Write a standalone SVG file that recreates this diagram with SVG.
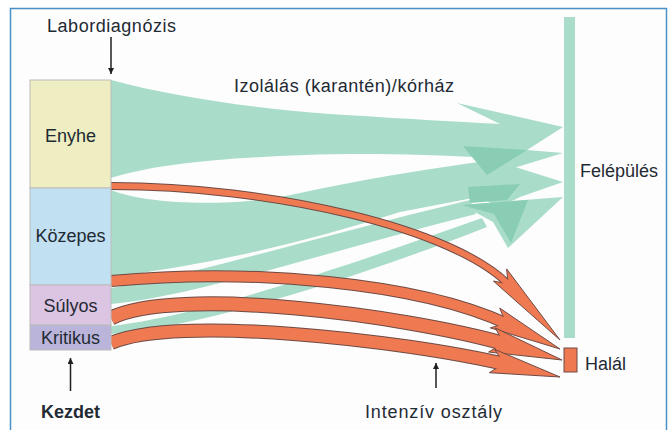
<svg xmlns="http://www.w3.org/2000/svg" width="670" height="430" viewBox="0 0 670 430">
<defs>
<style>
.g{fill:#a9dcc9}
.gd{fill:#88cdb4}
.ro{fill:none;stroke:#6e4a44}
.ri{fill:none;stroke:#ef7a52}
.rh{fill:#ef7a52;stroke:#6e4a44;stroke-width:1;stroke-linejoin:miter}
.t{font-family:"Liberation Sans",Arial,sans-serif;font-size:18px;fill:#1f2a33}
.box{stroke:#bcbcbc;stroke-width:1}
.ar{stroke:#1f1f1f;stroke-width:1.5;fill:none;marker-end:url(#ah)}
</style>
<marker id="ah" viewBox="0 0 10 10" refX="10" refY="5" markerUnits="userSpaceOnUse" markerWidth="10" markerHeight="6" orient="auto">
<path d="M0,0 L10,5 L0,10 z" fill="#1f1f1f"/>
</marker>
</defs>
<rect x="0" y="0" width="670" height="430" fill="#ffffff"/>
<rect x="10.5" y="8.5" width="656" height="440" fill="#fdfdfe" stroke="#4a90c4" stroke-width="1.5"/>

<g id="connectors">
<g id="green-flows">
<path class="g" d="M111,80 C170,96 250,108 330,114 C410,119 460,122 500,124 L457,103 L563,127 L527,150 L563,153 L487,176 L492,158 C420,154 360,153 305,155 C225,158 160,163 111,178 Z"/>
<path class="g" d="M111,190 C150,206 240,207 300,193 C370,178 440,167 495,160 L512,166 L563,182 L520,197 L500,207 L478,197 L400,212 Q250,260 111,277 Z"/>
<path class="g" d="M111,288 C190,276 320,236 470,200 L476,214 C326,252 195,296 111,304 Z"/>
<path class="g" d="M111,326 C200,316 350,265 482,218 L487,227 C356,278 205,326 111,334 Z"/>
<polygon class="g" points="462,205 563,197 508,248 493,222"/>
<polygon class="gd" points="463,146 527,150 487,175"/>
<polygon class="gd" points="468,187 520,184 507,200 470,203"/>
<polygon class="gd" points="462,205 528,200 511,243 494,214"/>
</g>
<g id="red-flows">
<g id="flow-enyhe-halal">
<path class="ro" stroke-width="8" d="M111,186 C270,186 456.6,228 510.8,286.8"/>
<polygon class="rh" points="506.6,268.9 560,340 493.4,281.1 508.1,283.8"/>
<path class="ri" stroke-width="6" d="M111,186 C270,186 456.6,228 510.8,286.8"/>
</g>
<g id="flow-kozepes-halal">
<path class="ro" stroke-width="12" d="M111,281 C250,268 419,282 509.4,324.9"/>
<polygon class="rh" points="499.7,308.1 560,349 490.3,327.9 505.8,323.2"/>
<path class="ri" stroke-width="10" d="M111,281 C250,268 419,282 509.4,324.9"/>
</g>
<g id="flow-sulyos-halal">
<path class="ro" stroke-width="15" d="M111,318 C175,286 401.6,314.2 507.4,344.4"/>
<polygon class="rh" points="495.4,328 562,360 488.6,352 503.5,343.3"/>
<path class="ri" stroke-width="13" d="M111,318 C175,286 401.6,314.2 507.4,344.4"/>
</g>
<g id="flow-kritikus-halal">
<path class="ro" stroke-width="14" d="M111,343 C175,315 400.6,339.5 507.6,364.7"/>
<polygon class="rh" points="494.7,349.3 560,377 489.3,372.7 503.7,363.7"/>
<path class="ri" stroke-width="12" d="M111,343 C175,315 400.6,339.5 507.6,364.7"/>
</g>
</g>
<g id="pointer-arrows">
<line class="ar" x1="111" y1="37" x2="111" y2="74"/>
<line class="ar" x1="70.5" y1="391" x2="70.5" y2="358"/>
<line class="ar" x1="436" y1="388" x2="436" y2="363"/>
</g>
</g>

<g id="node-enyhe">
<rect class="box" x="30" y="80" width="81" height="108" fill="#eeeec2"/>
<text class="t" x="70.5" y="142" text-anchor="middle">Enyhe</text>
</g>
<g id="node-kozepes">
<rect class="box" x="30" y="188" width="81" height="97" fill="#c1e0f2"/>
<text class="t" x="70.5" y="242" text-anchor="middle">Közepes</text>
</g>
<g id="node-sulyos">
<rect class="box" x="30" y="285" width="81" height="40" fill="#dcc4e3"/>
<text class="t" x="70.5" y="312" text-anchor="middle">Súlyos</text>
</g>
<g id="node-kritikus">
<rect class="box" x="30" y="325" width="81" height="25" fill="#bab4da"/>
<text class="t" x="70.5" y="344" text-anchor="middle">Kritikus</text>
</g>
<g id="node-felepules">
<rect x="564" y="17" width="11" height="321" fill="#a9dcc9"/>
<text class="t" x="580" y="177">Felépülés</text>
</g>
<g id="node-halal">
<rect x="564" y="348" width="13" height="24" fill="#ef7a52" stroke="#6e4a44" stroke-width="1"/>
<text class="t" x="585" y="370">Halál</text>
</g>
<g id="labels">
<text class="t" x="47" y="32" font-size="17" textLength="129">Labordiagnózis</text>
<text class="t" x="234" y="92" textLength="220">Izolálás (karantén)/kórház</text>
<text class="t" x="41" y="418" font-weight="bold">Kezdet</text>
<text class="t" x="365" y="418" textLength="137">Intenzív osztály</text>
</g>
</svg>
